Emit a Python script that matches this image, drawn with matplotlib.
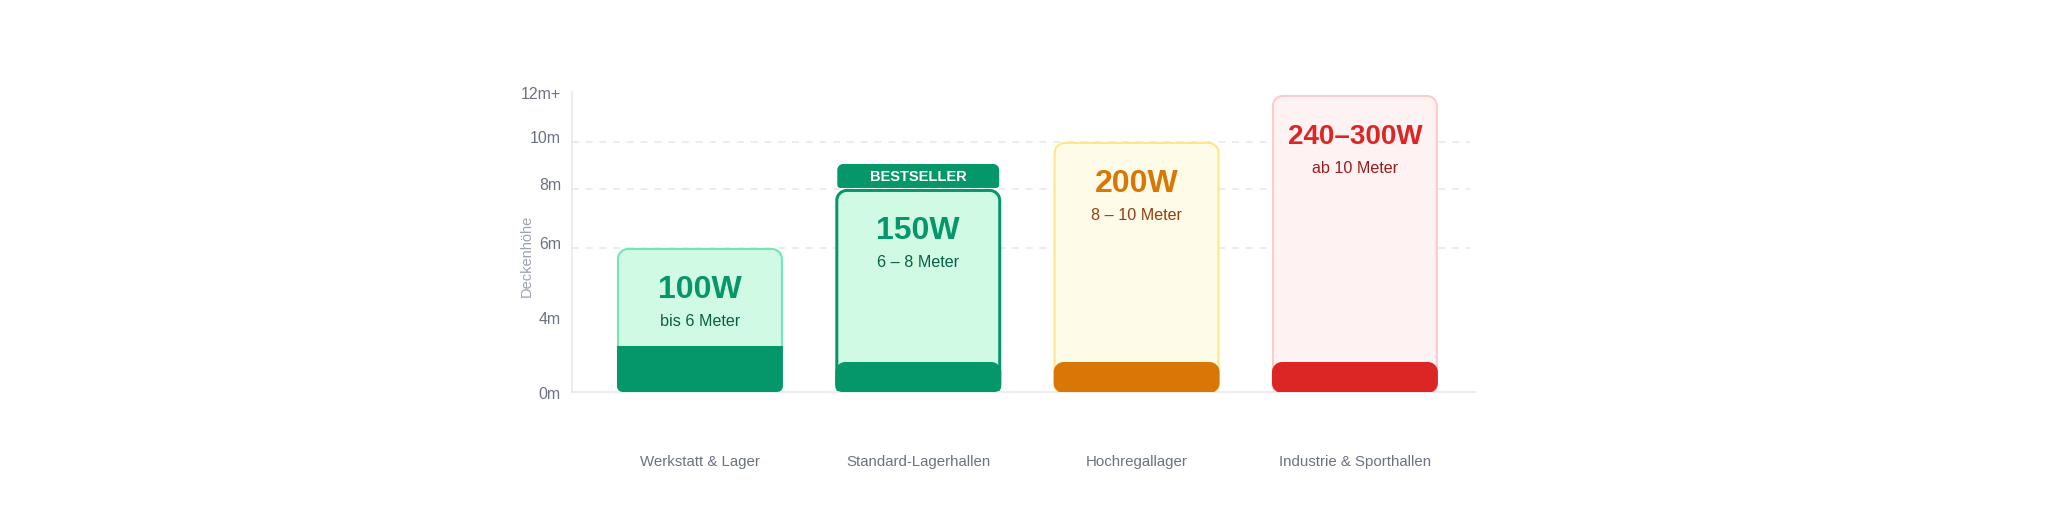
import numpy as np
import matplotlib.pyplot as plt
from matplotlib.path import Path
from matplotlib.patches import PathPatch
from matplotlib.transforms import IdentityTransform

plt.rcParams['font.family'] = ['Liberation Sans', 'DejaVu Sans']

categories = ["Werkstatt & Lager", "Standard-Lagerhallen", "Hochregallager", "Industrie & Sporthallen"]
heights_m = [6, 8, 10, 12]
watt_labels = ["100W", "150W", "200W", "240–300W"]
range_labels = ["bis 6 Meter", "6 – 8 Meter", "8 – 10 Meter", "ab 10 Meter"]
badges = [None, "BESTSELLER", None, None]

y_ticks = [0, 4, 6, 8, 10, 12]
y_tick_labels = ["0m", "4m", "6m", "8m", "10m", "12m+"]
y_label_dy = [-2, 0.3, 2.5, 2.5, 2.5, 0.3]  # points, label nudges
grid_m = [6, 8, 10]

# the height axis is not linear in the original
scale_m = [0, 4, 6, 8, 10, 12, 14]
scale_pos = [0, 72, 144, 203, 250, 297, 346]

# colours per bar: fill, border, base, main text, sub text
fills = ["#d1fae5", "#d1fae5", "#fefce8", "#fef2f2"]
borders = ["#6ee7b7", "#059669", "#fde68a", "#fecaca"]
bases = ["#059669", "#059669", "#d97706", "#dc2626"]
main_cols = ["#059669", "#059669", "#d97706", "#dc2626"]
sub_cols = ["#065f46", "#065f46", "#92400e", "#991b1b"]
main_sizes = [23, 23, 23, 20]
border_px = [2, 3, 2, 2]
base_px = [46, 30, 30, 30]


def fwd(v):
    return np.interp(v, scale_m, scale_pos)


def inv(p):
    return np.interp(p, scale_pos, scale_m)


def rounded_box(x0, y0, x1, y1, rt, rb):
    k = 0.5523
    verts = [
        (x0 + rb, y0), (x1 - rb, y0),
        (x1 - rb + k * rb, y0), (x1, y0 + rb - k * rb), (x1, y0 + rb),
        (x1, y1 - rt),
        (x1, y1 - rt + k * rt), (x1 - rt + k * rt, y1), (x1 - rt, y1),
        (x0 + rt, y1),
        (x0 + rt - k * rt, y1), (x0, y1 - rt + k * rt), (x0, y1 - rt),
        (x0, y0 + rb),
        (x0, y0 + rb - k * rb), (x0 + rb - k * rb, y0), (x0 + rb, y0),
        (x0 + rb, y0),
    ]
    codes = [Path.MOVETO, Path.LINETO,
             Path.CURVE4, Path.CURVE4, Path.CURVE4,
             Path.LINETO,
             Path.CURVE4, Path.CURVE4, Path.CURVE4,
             Path.LINETO,
             Path.CURVE4, Path.CURVE4, Path.CURVE4,
             Path.LINETO,
             Path.CURVE4, Path.CURVE4, Path.CURVE4,
             Path.CLOSEPOLY]
    return Path(verts, codes)


fig = plt.figure(figsize=(20.48, 5.12), dpi=100)
ax = fig.add_axes([572 / 2048, 120 / 512, 903 / 2048, 300 / 512])
ax.set_yscale('function', functions=(fwd, inv))
ax.set_xlim(-0.586, 3.55)
ax.set_ylim(0, 12.12)

for s in ['top', 'right']:
    ax.spines[s].set_visible(False)
for s in ['left', 'bottom']:
    ax.spines[s].set_color('#e5e7eb')
    ax.spines[s].set_linewidth(1.1)

for g in grid_m:
    ax.axhline(g, xmin=0, xmax=0.995, color='#e5e7eb', lw=1.1,
               linestyle=(0, (4.5, 4.5)), zorder=0)

ax.set_yticks([])
for v, lab, dy in zip(y_ticks, y_tick_labels, y_label_dy):
    ax.annotate(lab, xy=(0, v), xycoords=('axes fraction', 'data'),
                xytext=(-8, dy), textcoords='offset points',
                ha='right', va='center', fontsize=11.4, color='#6b7280')

ax.text(-0.05, 0.453, "Deckenhöhe", transform=ax.transAxes, rotation=90,
        ha='center', va='center', fontsize=10.5, color='#9ca3af')

ax.set_xticks(range(len(categories)), categories)
ax.tick_params(axis='x', length=0, pad=45.6, labelsize=10.8, labelcolor='#6b7280')

width = 0.76
idt = IdentityTransform()
for i, h in enumerate(heights_m):
    (x0, y0) = ax.transData.transform((i - width / 2, 0))
    (x1, y1) = ax.transData.transform((i + width / 2, h))
    b = border_px[i] / 2
    outer = PathPatch(rounded_box(x0 + b, y0, x1 - b, y1 - b, 10, 6),
                      facecolor=fills[i], edgecolor=borders[i],
                      lw=border_px[i] * 0.72, transform=idt, zorder=2)
    ax.add_artist(outer)
    if i == 0:
        base_path = rounded_box(x0, y0, x1, y0 + base_px[i], 0, 6)
    else:
        base_path = rounded_box(x0, y0 - 1, x1, y0 + base_px[i], 10, 10)
    base = PathPatch(base_path, facecolor=bases[i], edgecolor='none',
                     transform=idt, zorder=3)
    ax.add_artist(base)

    if badges[i]:
        badge = PathPatch(rounded_box(x0 + 2, y1 + 1, x1 - 2, y1 + 25, 6, 3),
                          facecolor=bases[i], edgecolor='none',
                          transform=idt, zorder=3)
        ax.add_artist(badge)
        ax.annotate(badges[i], xy=(i, h), xytext=(0, 8.8), textcoords='offset points',
                    ha='center', va='center', fontsize=10.5, fontweight='bold',
                    color='white', zorder=4)

    ax.annotate(watt_labels[i], xy=(i, h), xytext=(0, -30.1), textcoords='offset points',
                ha='center', va='center', fontsize=main_sizes[i], fontweight='bold',
                color=main_cols[i], zorder=4)
    ax.annotate(range_labels[i], xy=(i, h), xytext=(0, -52.8), textcoords='offset points',
                ha='center', va='center', fontsize=11.6,
                color=sub_cols[i], zorder=4)

fig.savefig('out.png', dpi=100, facecolor='white')
